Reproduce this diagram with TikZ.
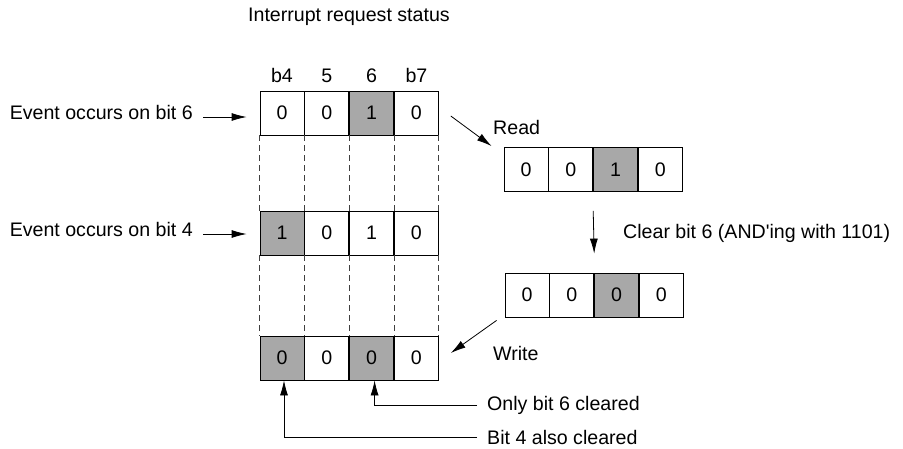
\documentclass[tikz,border=0pt]{standalone}
\usepackage{fontspec}
\setmainfont{Liberation Sans}
\usepackage{tikz}
\usetikzlibrary{arrows.meta,positioning}
\definecolor{hitgray}{gray}{0.66}

\begin{document}
\begin{tikzpicture}[x=1pt, y=-1pt, node distance=8pt, every node/.style={font=\fontsize{19.6}{23}\selectfont}]
\tikzstyle{cell}=[draw, minimum width=44pt, minimum height=44pt, inner sep=0pt, line width=0.8pt]
\tikzstyle{hit}=[cell, fill=hitgray]
\tikzstyle{lbl}=[inner sep=0pt]
\tikzstyle{arr}=[-{Latex[length=15pt,width=8pt]}, line width=0.8pt]
\tikzstyle{guide}=[dash pattern=on 6pt off 4pt, line width=0.8pt, black!75]
\useasboundingbox (0,0) rectangle (903,448);
\node[lbl, anchor=west] (title) at (248,17) {Interrupt request status};
% register as seen by the CPU
\node[cell] (a1) at (282,113) {0};
\node[cell, right=0pt of a1] (a2) {0};
\node[hit, right=0pt of a2] (a3) {1};
\node[cell, right=0pt of a3] (a4) {0};
\node[hit] (b1) at (282,233) {1};
\node[cell, right=0pt of b1] (b2) {0};
\node[cell, right=0pt of b2] (b3) {1};
\node[cell, right=0pt of b3] (b4) {0};
\node[hit] (c1) at (282,358) {0};
\node[cell, right=0pt of c1] (c2) {0};
\node[hit, right=0pt of c2] (c3) {0};
\node[cell, right=0pt of c3] (c4) {0};
\node[lbl, above=of a1] {b4};
\node[lbl, above=of a2] {5};
\node[lbl, above=of a3] {6};
\node[lbl, above=of a4] {b7};
\foreach \i in {1,...,4} {
  \draw[guide] (a\i.south west) -- (b\i.north west);
  \draw[guide] (b\i.south west) -- (c\i.north west);
}
\draw[guide] (a4.south east) -- (b4.north east);
\draw[guide] (b4.south east) -- (c4.north east);
% copy in the CPU
\node[cell] (r1) at (526,169.5) {0};
\node[cell, right=0pt of r1] (r2) {0};
\node[hit, right=0pt of r2] (r3) {1};
\node[cell, right=0pt of r3] (r4) {0};
\node[cell] (m1) at (527,295) {0};
\node[cell, right=0pt of m1] (m2) {0};
\node[hit, right=0pt of m2] (m3) {0};
\node[cell, right=0pt of m3] (m4) {0};
% labels and arrows
\node[lbl, anchor=east] (ev6) at (193,112) {Event occurs on bit 6};
\node[lbl, anchor=east] (ev4) at (193,229) {Event occurs on bit 4};
\draw[arr] ([xshift=10pt,yshift=-5pt]ev6.east) -- ([xshift=-13pt,yshift=-5pt]ev6.east -| a1.west);
\draw[arr] ([xshift=10pt,yshift=-5pt]ev4.east) -- ([xshift=-13pt,yshift=-5pt]ev4.east -| b1.west);
\node[lbl, anchor=west] (rd) at (493,127) {Read};
\draw[arr] ([xshift=12pt,yshift=-3pt]a4.east) -- ([xshift=-12pt,yshift=1pt]r1.north west);
\node[lbl, anchor=west] (clr) at (623,233) {Clear bit 6 (AND\textquotesingle ing with 1101)};
\draw[arr] ([yshift=-19pt]r2.south east) -- ([yshift=19pt]m2.north east);
\node[lbl, anchor=west] (wr) at (493,353) {Write};
\draw[arr] ([xshift=-8pt,yshift=-3pt]m1.south west) -- ([xshift=12pt,yshift=5pt]c4.east);
\node[lbl, anchor=west] (ob6) at (487,405) {Only bit 6 cleared};
\node[lbl, anchor=west] (ob4) at (487,437) {Bit 4 also cleared};
\draw[arr] ([xshift=-10pt]ob6.west) -| ([xshift=3pt]c3.south);
\draw[arr] ([xshift=-10pt]ob4.west) -| ([xshift=2pt]c1.south);
\end{tikzpicture}
\end{document}
